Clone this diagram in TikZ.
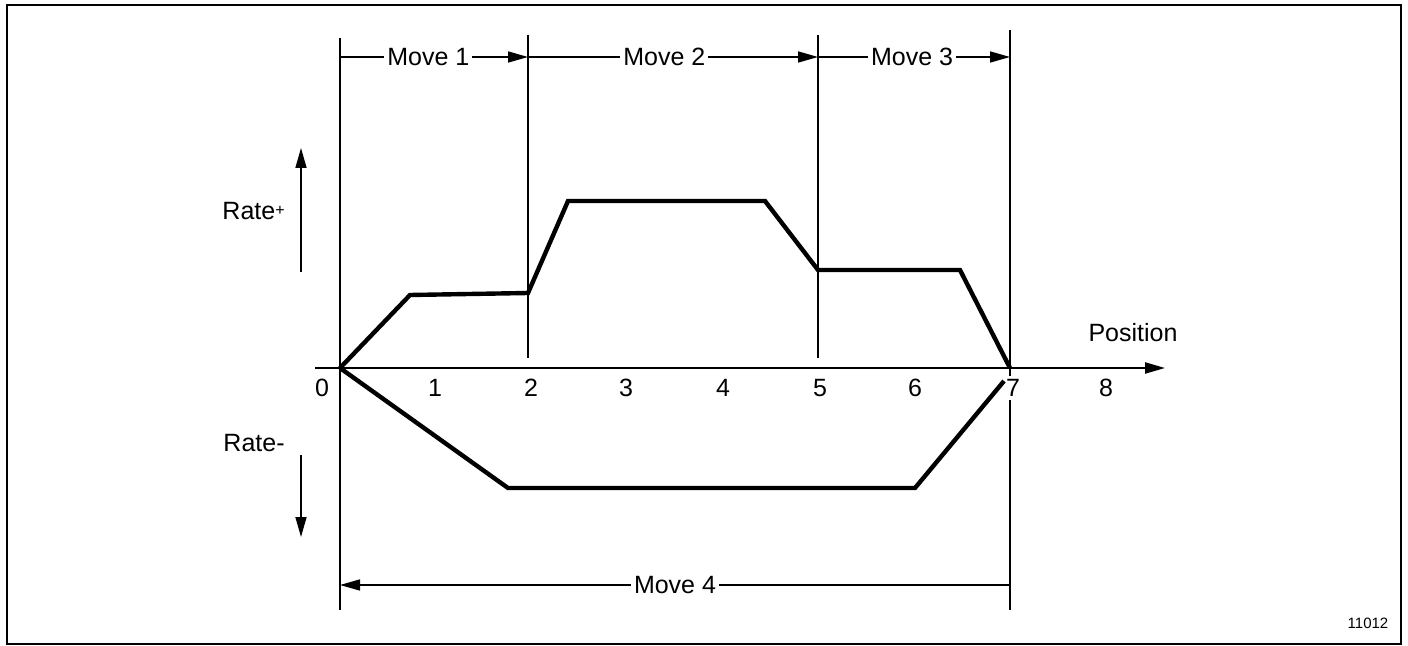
\documentclass[tikz,border=0pt]{standalone}
\usepackage{fontspec}
\setmainfont{Liberation Sans}
\usetikzlibrary{arrows.meta}
\begin{document}
\begin{tikzpicture}[x=0.5pt,y=-0.5pt,
  thinline/.style={line width=0.8pt},
  curve/.style={line width=2.2pt, line join=miter},
  tipr/.style={-{Triangle[length=10pt,width=5.5pt]}},
  lbl/.style={font=\fontsize{12.5}{14}\selectfont, inner sep=1pt},
  dimlbl/.style={lbl, fill=white, inner sep=1.5pt},
  small/.style={font=\fontsize{7.5}{8}\selectfont, inner sep=0pt}]
\useasboundingbox (0,0) rectangle (1408,646);
\draw[line width=1.1pt] (7,5) rectangle (1401,644);
% vertical boundary lines
\coordinate (v0t) at (340,38);  \coordinate (v0b) at (340,610);
\coordinate (v2t) at (528,35);  \coordinate (v2b) at (528,358);
\coordinate (v5t) at (818,35);  \coordinate (v5b) at (818,358);
\coordinate (v7t) at (1010,30); \coordinate (v7b) at (1010,610);
\draw[thinline] (v0t) -- (v0b);
\draw[thinline] (v2t) -- (v2b);
\draw[thinline] (v5t) -- (v5b);
\draw[thinline] (v7t) -- (v7b);
% axis
\coordinate (ax0) at (315,368);
\coordinate (ax1) at (1165,368);
\draw[line width=1.1pt, tipr] (ax0) -- (ax1);
\node[lbl] (pos) at (1133,333) {Position};
% tick labels
\node[lbl] (t0) at (322,388) {0};
\node[lbl] (t1) at (435,388) {1};
\node[lbl] (t2) at (531,388) {2};
\node[lbl] (t3) at (626,388) {3};
\node[lbl] (t4) at (723,388) {4};
\node[lbl] (t5) at (820,388) {5};
\node[lbl] (t6) at (915,388) {6};
\node[lbl, fill=white, inner sep=1.5pt] (t7) at (1013,388) {7};
\node[lbl] (t8) at (1106,388) {8};
% moves
\coordinate (m1a) at (340,57); \coordinate (m1b) at (528,57);
\coordinate (m2b) at (818,57); \coordinate (m3b) at (1010,57);
\draw[thinline, tipr] (m1a) -- (m1b) node[dimlbl, pos=0.47] (mv1) {Move 1};
\draw[thinline, tipr] (m1b) -- (m2b) node[dimlbl, pos=0.47] (mv2) {Move 2};
\draw[thinline, tipr] (m2b) -- (m3b) node[dimlbl, pos=0.49] (mv3) {Move 3};
\coordinate (m4a) at (1010,585); \coordinate (m4b) at (340,585);
\draw[thinline, tipr] (m4a) -- (m4b) node[dimlbl, pos=0.5] (mv4) {Move 4};
% rate arrows
\coordinate (rpb) at (301,272); \coordinate (rpt) at (301,148);
\coordinate (rmt) at (301,455); \coordinate (rmb) at (301,537);
\draw[thinline, tipr] (rpb) -- (rpt);
\draw[thinline, tipr] (rmt) -- (rmb);
\node[lbl, anchor=east] (rplus) at (287,211) {Rate\raisebox{0.3ex}{\fontsize{8}{9}\selectfont+}};
\node[lbl, anchor=east] (rminus) at (287,443) {Rate-};
% profiles
\draw[curve] (340,368) -- (410,295) -- (528,293) -- (568,201) -- (765,201) -- (818,270) -- (960,270) -- (1010,368);
\draw[curve] (340,368) -- (508,488) -- (915,488) -- (1004,381);
\node[small] (id) at (1368,623) {11012};
\end{tikzpicture}
\end{document}
